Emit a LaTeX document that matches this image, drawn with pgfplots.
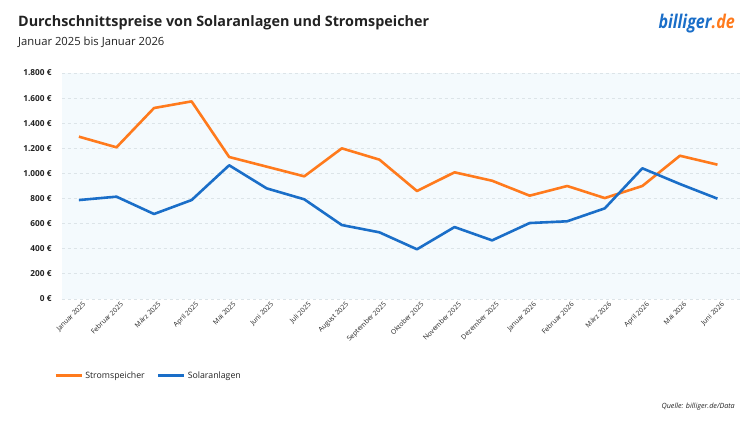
\documentclass[border=0pt]{standalone}
\usepackage{fontspec}
\setmainfont{Open Sans}
\usepackage{pgfplots}
\pgfplotsset{compat=1.18}
\definecolor{orangeS}{HTML}{FF7A1C}
\definecolor{blueS}{HTML}{1A6EC8}
\definecolor{bgS}{HTML}{F4FAFD}
\definecolor{gridS}{HTML}{DCE4E8}
\definecolor{txtS}{HTML}{222222}
\begin{document}
\begin{tikzpicture}
\useasboundingbox (0bp,0bp) rectangle (748bp,421bp);
\node[anchor=base west,inner sep=0,font=\fontsize{14.4}{17}\selectfont\bfseries,text=txtS] at (18bp,394bp) {Durchschnittspreise von Solaranlagen und Stromspeicher};
\node[anchor=base west,inner sep=0,font=\fontsize{11.3}{14}\selectfont,text=txtS] at (18bp,375bp) {Januar 2025 bis Januar 2026};
\node[anchor=base east,inner sep=0,font=\fontsize{19}{21}\selectfont\bfseries\itshape] at (735bp,392bp) {\scalebox{0.85}[1]{\textcolor{blueS}{billiger}\textcolor{orangeS}{.de}}};
\node[anchor=base east,inner sep=0,font=\fontsize{7.2}{9}\selectfont\itshape,text=txtS] at (735bp,13bp) {Quelle: billiger.de/Data};
\begin{axis}[
  at={(62bp,122bp)}, anchor=south west,
  scale only axis, width=678bp, height=226bp,
  xmin=-0.45, xmax=17.6, ymin=0, ymax=1800,
  axis background/.style={fill=bgS},
  axis line style={draw=none},
  major tick length=0pt,
  ytick={0,200,...,1800},
  yticklabels={0 €,200 €,400 €,600 €,800 €,1.000 €,1.200 €,1.400 €,1.600 €,1.800 €},
  yticklabel style={font=\fontsize{8.3}{10}\selectfont\bfseries,text=txtS, xshift=-7bp},
  ymajorgrids, grid style={gridS, dashed, line width=0.8pt},
  xtick={0,...,17},
  xticklabels={Januar 2025,Februar 2025,März 2025,April 2025,Mai 2025,Juni 2025,Juli 2025,August 2025,September 2025,Oktober 2025,November 2025,Dezember 2025,Januar 2026,Februar 2026,März 2026,April 2026,Mai 2026,Juni 2026},
  xticklabel style={font=\fontsize{6.8}{8}\selectfont,text=txtS, rotate=45, anchor=north east, inner sep=1bp, xshift=2bp, yshift=-3bp},
  legend style={at={(-0.016,-0.34)}, anchor=west, draw=none, fill=none, font=\fontsize{8.8}{10}\selectfont, text=txtS, legend columns=2, /tikz/every even column/.append style={column sep=10bp}},
  legend image code/.code={\draw[#1, line width=3pt] (0bp,0bp) -- (26bp,0bp);},
]
\addplot[orangeS, line width=2.6pt, line join=round] coordinates {
(0,1293) (1,1208) (2,1521) (3,1574) (4,1131) (5,1054) (6,977) (7,1200) (8,1110)
(9,860) (10,1009) (11,942) (12,823) (13,900) (14,804) (15,900) (16,1141) (17,1070)};
\addlegendentry{Stromspeicher}
\addplot[blueS, line width=2.6pt, line join=round] coordinates {
(0,788) (1,815) (2,677) (3,788) (4,1065) (5,881) (6,794) (7,589) (8,531)
(9,396) (10,573) (11,467) (12,605) (13,619) (14,722) (15,1041) (16,916) (17,799)};
\addlegendentry{Solaranlagen}
\end{axis}
\end{tikzpicture}
\end{document}
